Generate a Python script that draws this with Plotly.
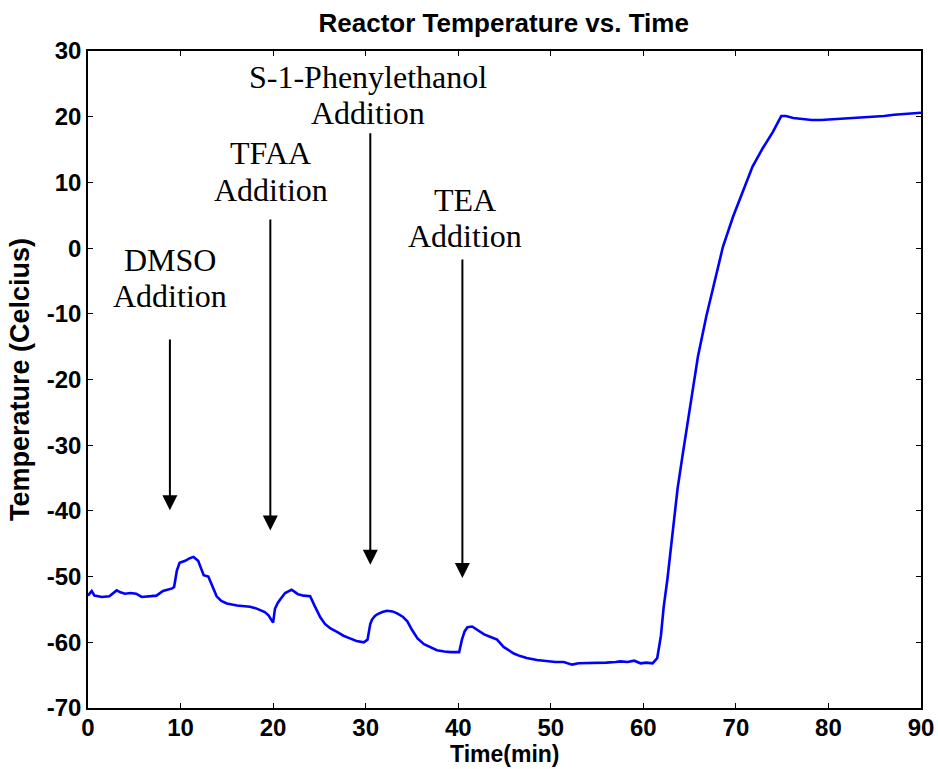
import plotly.graph_objects as go

# Reactor temperature log (minutes, degrees Celsius)
time_min = [0, 0.4, 0.7, 1.5, 2.3, 2.8, 3.1, 3.5, 4.0, 4.6, 5.2, 5.8, 6.5, 7.4, 8.1, 8.6,
            9.1, 9.3, 9.6, 9.9, 10.5, 11.0, 11.4, 11.9, 12.3, 12.5, 13.0, 13.4, 13.9, 14.4,
            15.0, 16.1, 17.0, 17.5, 18.1, 18.6, 19.1, 19.5, 19.8, 20.0, 20.2, 20.5, 20.8,
            21.3, 21.7, 22.0, 22.4, 22.7, 23.3, 24.0, 24.5, 25.1, 25.6, 26.2, 27.0, 27.6,
            28.3, 29.0, 29.8, 30.2, 30.5, 30.7, 31.0, 31.3, 31.8, 32.3, 32.9, 33.4, 34.0,
            34.5, 35.0, 35.6, 36.3, 37.0, 37.7, 38.5, 39.2, 40.1, 40.4, 40.7, 41.0, 41.5,
            42.0, 42.8, 43.5, 44.2, 44.9, 45.5, 46.0, 46.7, 47.4, 48.5, 49.6, 50.5, 51.4,
            52.3, 53.0, 54.0, 55.0, 56.0, 57.0, 57.5, 58.3, 59.0, 59.7, 60.3, 61.0, 61.5,
            61.9, 62.2, 62.6, 63.1, 63.7, 64.2, 65.0, 65.9, 66.8, 67.7, 68.6, 69.7, 70.8,
            71.8, 72.9, 74.0, 74.9, 75.4, 76.2, 77.2, 78.2, 79.2, 80.5, 82.1,
            83.5, 85.0, 86.0, 87.1, 88.5, 90.0]
temp_c = [-52.9, -52.2, -52.9, -53.1, -53.0, -52.4, -52.1, -52.4, -52.6, -52.5, -52.6, -53.1,
          -53.0, -52.9, -52.2, -52.0, -51.8, -51.6, -49.1, -47.9, -47.6, -47.2, -47.0, -47.6,
          -48.9, -49.8, -50.0, -51.4, -53.0, -53.7, -54.1, -54.4, -54.5, -54.6, -54.8, -55.1,
          -55.4, -55.9, -56.7, -57.0, -54.9, -54.0, -53.4, -52.5, -52.2, -52.0, -52.4, -52.7,
          -52.9, -53.0, -54.5, -56.2, -57.2, -57.9, -58.5, -59.0, -59.4, -59.8, -60.0, -59.6,
          -57.2, -56.5, -56.0, -55.7, -55.4, -55.2, -55.3, -55.6, -56.1, -56.8, -58.1, -59.4,
          -60.3, -60.8, -61.2, -61.4, -61.5, -61.5, -59.6, -58.3, -57.7, -57.6, -58.1, -58.8,
          -59.2, -59.6, -60.7, -61.3, -61.7, -62.1, -62.4, -62.7, -62.9, -63.0, -63.0, -63.4,
          -63.2, -63.2, -63.2, -63.1, -63.0, -62.9, -63.0, -62.8, -63.2, -63.1, -63.2, -62.4,
          -59.0, -54.6, -50.4, -43.8, -36.6, -31.9, -24.4, -16.5, -10.4, -4.9, 0.2, 4.8, 8.8,
          12.4, 15.2, 17.7, 20.1, 20.1, 19.8, 19.6, 19.5, 19.5, 19.6, 19.8,
          19.9, 20.0, 20.1, 20.3, 20.5, 20.6]

# Axis ticks (hyphen minus, as printed)
x_ticks = [0, 10, 20, 30, 40, 50, 60, 70, 80, 90]
y_ticks = [30, 20, 10, 0, -10, -20, -30, -40, -50, -60, -70]
y_tick_text = [str(v) for v in y_ticks]

# Reagent additions: label lines, label position, arrow x, arrow tail and tip
event_lines = [["DMSO", "Addition"], ["TFAA", "Addition"],
               ["S-1-Phenylethanol", "Addition"], ["TEA", "Addition"]]
label_x = [8.85, 19.75, 30.2, 40.7]
label_y = [[-1.8, -7.3], [14.5, 8.8], [26.1, 20.6], [7.3, 1.8]]
arrow_x = [8.85, 19.7, 30.5, 40.45]
arrow_tail = [-13.7, 4.6, 17.7, -1.5]
arrow_tip = [-39.9, -43.0, -48.2, -50.2]

serif = "Liberation Serif"
sans = "Liberation Sans"

fig = go.Figure()
fig.add_trace(go.Scatter(x=time_min, y=temp_c, mode="lines",
                         line=dict(color="#0000FF", width=2.6), showlegend=False))

for lines, lx, lys, axp, tail, tip in zip(event_lines, label_x, label_y,
                                          arrow_x, arrow_tail, arrow_tip):
    for txt, ly in zip(lines, lys):
        fig.add_annotation(x=lx, y=ly, text=txt, showarrow=False,
                           xanchor="center", yanchor="middle",
                           font=dict(family=serif, size=32, color="black"))
    fig.add_annotation(x=axp, y=tip, ax=axp, ay=tail, axref="x", ayref="y",
                       text="", showarrow=True, arrowhead=2, arrowsize=1.5,
                       arrowwidth=2, arrowcolor="black", standoff=0)

# x-axis title anchored to the bottom edge, under the tick labels
fig.add_annotation(x=0.5, y=-0.0915, xref="paper", yref="paper", text="Time(min)",
                   showarrow=False, xanchor="center", yanchor="bottom", borderpad=0,
                   font=dict(family=sans, size=23, color="black", weight="bold"))

axis_common = dict(showline=True, linecolor="black", linewidth=1.5, mirror="ticks",
                   ticks="inside", ticklen=5, tickcolor="black", tickwidth=1,
                   showgrid=False, zeroline=False, automargin=False,
                   tickfont=dict(family=sans, size=24, color="black", weight="bold"))

fig.update_layout(
    width=938, height=769,
    margin=dict(l=88, r=17, t=51, b=61, autoexpand=False),
    plot_bgcolor="white", paper_bgcolor="white",
    title=dict(text="Reactor Temperature vs. Time", x=0.537, xanchor="center",
               y=0.970, yanchor="middle", automargin=False,
               font=dict(family=sans, size=26, color="black", weight="bold")),
    xaxis=dict(range=[0, 90], tickmode="array", tickvals=x_ticks,
               ticktext=[str(v) for v in x_ticks], ticklabelstandoff=-3, **axis_common),
    yaxis=dict(range=[-70, 30], tickmode="array", tickvals=y_ticks, ticktext=y_tick_text,
               title=dict(text="Temperature (Celcius)", standoff=9,
                          font=dict(family=sans, size=27, color="black", weight="bold")),
               **axis_common),
)

fig.write_html("out.html")
